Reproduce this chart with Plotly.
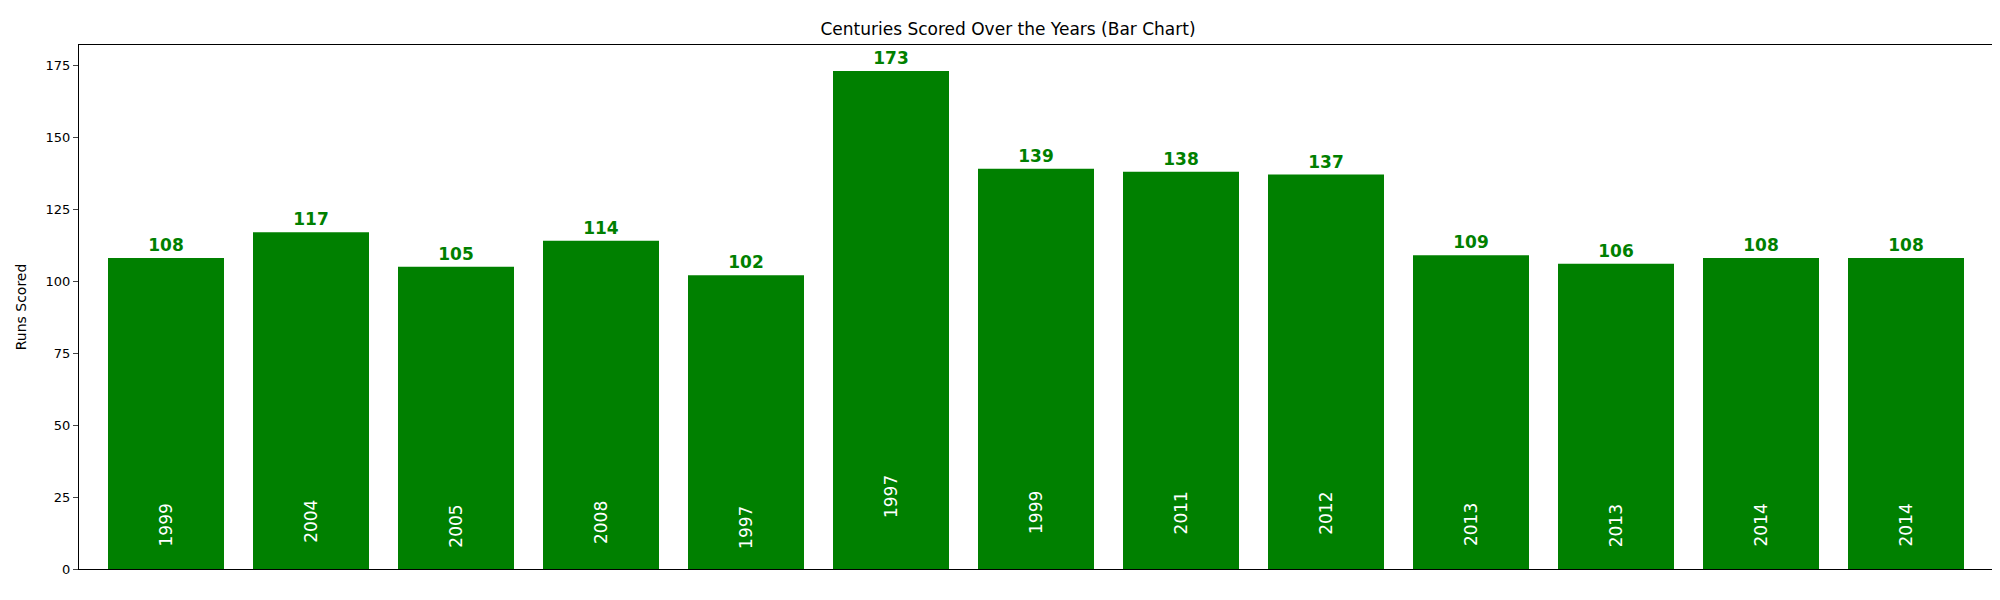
import plotly.graph_objects as go

years = ["1999","2004","2005","2008","1997","1997","1999","2011","2012","2013","2013","2014","2014"]
runs = [108,117,105,114,102,173,139,138,137,109,106,108,108]
idx = list(range(len(runs)))

fig = go.Figure(go.Bar(
    x=idx, y=runs, width=0.8, marker=dict(color="green", line_width=0),
    text=[f"<b>{v}</b>" for v in runs], textposition="outside", cliponaxis=False,
    textfont=dict(color="green", size=17, family="DejaVu Sans"),
))
for i, (yr, v) in enumerate(zip(years, runs)):
    fig.add_annotation(x=i, y=v * 0.14 if v < 150 else 25, text=yr, textangle=-90, showarrow=False,
                       font=dict(color="white", size=17, family="DejaVu Sans"))
fig.update_layout(
    width=2000, height=600, plot_bgcolor="white", paper_bgcolor="white",
    margin=dict(l=71, r=15, t=37, b=39), showlegend=False,
    title=dict(text="Centuries Scored Over the Years (Bar Chart)", x=0.5, xanchor="center", y=0.975,
               font=dict(size=17, color="black", family="DejaVu Sans")),
    font=dict(family="DejaVu Sans", color="black"),
    xaxis=dict(range=[-0.6, 12.6], showticklabels=False, ticks="", showgrid=False, zeroline=False,
               showline=True, linecolor="black", mirror=True),
    yaxis=dict(range=[0, 182], tickvals=[0,25,50,75,100,125,150,175], ticks="outside", ticklen=5,
               showgrid=False, zeroline=False, showline=True, linecolor="black", mirror=True,
               title=dict(text="Runs Scored", font=dict(size=14)), tickfont=dict(size=13)),
)
fig.write_html("out.html")
